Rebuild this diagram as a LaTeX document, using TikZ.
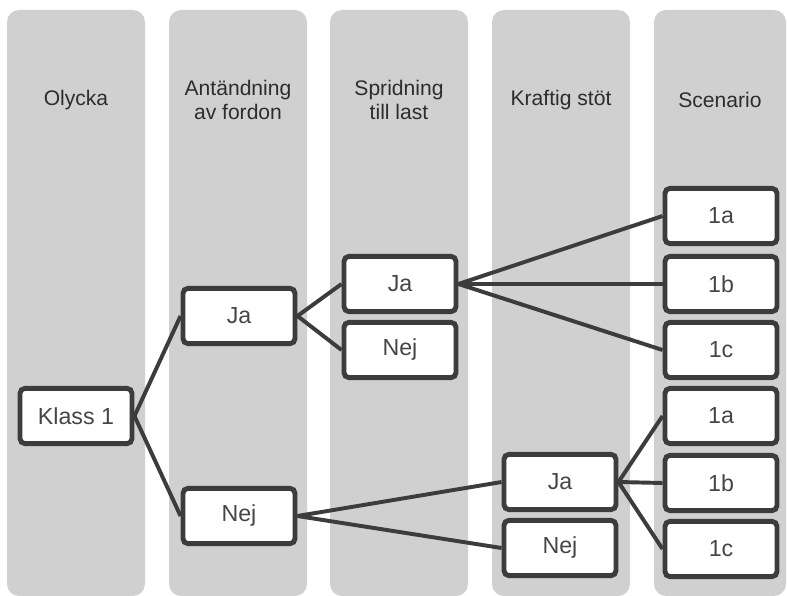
\documentclass[tikz,border=0pt]{standalone}
\usepackage{fontspec}
\setmainfont{Liberation Sans}
\definecolor{lanegray}{RGB}{208,208,208}
\definecolor{boxline}{RGB}{60,60,60}
\definecolor{boxtext}{RGB}{70,70,70}
\definecolor{headtext}{RGB}{45,45,45}
\usetikzlibrary{positioning}
\tikzset{
  lane/.style={fill=lanegray,rounded corners=0.3cm},
  choice/.style={rectangle,rounded corners=3.5pt,draw=boxline,
                 line width=3.5pt,fill=white,minimum width=2.8cm,
                 minimum height=1.38cm,text=boxtext,
                 font=\fontsize{16.5}{19}\selectfont},
  branch/.style={boxline,line width=2.8pt},
  header/.style={align=center,text=headtext,
                 font=\fontsize{15}{16.5}\selectfont},
}

\begin{document}
\begin{tikzpicture}
  \useasboundingbox (0,0) rectangle (19.675,-14.9);

  % columns
  \foreach \x/\w in {0.175/3.45,4.225/3.45,8.25/3.45,12.3/3.45,16.35/3.3}{
    \fill[lane] (\x,-0.25) rectangle ++(\w,-14.65);
  }

  \node[header] (hOly) at (1.9,-2.5)    {Olycka};
  \node[header] (hAnt) at (5.95,-2.5)   {Antändning\\av fordon};
  \node[header] (hSpr) at (9.975,-2.5)  {Spridning\\till last};
  \node[header] (hKra) at (14.025,-2.5) {Kraftig stöt};
  \node[header] (hSce) at (18.0,-2.5)   {Scenario};

  \node[choice] (k1)   at (1.9,-10.4)    {Klass 1};
  \node[choice] (ja2)  at (5.975,-7.9)   {Ja};
  \node[choice] (nej2) at (5.975,-12.9)  {Nej};
  \node[choice] (ja3)  at (10.0,-7.1)    {Ja};
  \node[choice] (nej3) at (10.0,-8.75)   {Nej};
  \node[choice] (ja4)  at (14.0,-12.05)  {Ja};
  \node[choice] (nej4) at (14.0,-13.7)   {Nej};

  \node[choice] (s1a) at (18.025,-5.4)    {1a};
  \node[choice] (s1b) at (18.025,-7.1)    {1b};
  \node[choice] (s1c) at (18.025,-8.75)   {1c};
  \node[choice] (s2a) at (18.025,-10.4)   {1a};
  \node[choice] (s2b) at (18.025,-12.075) {1b};
  \node[choice] (s2c) at (18.025,-13.725) {1c};

  \foreach \a/\b in {k1/ja2,k1/nej2,ja2/ja3,ja2/nej3,nej2/ja4,nej2/nej4,
                     ja3/s1a,ja3/s1b,ja3/s1c,ja4/s2a,ja4/s2b,ja4/s2c}{
    \draw[branch] (\a.east) -- (\b.west);
  }
\end{tikzpicture}
\end{document}
